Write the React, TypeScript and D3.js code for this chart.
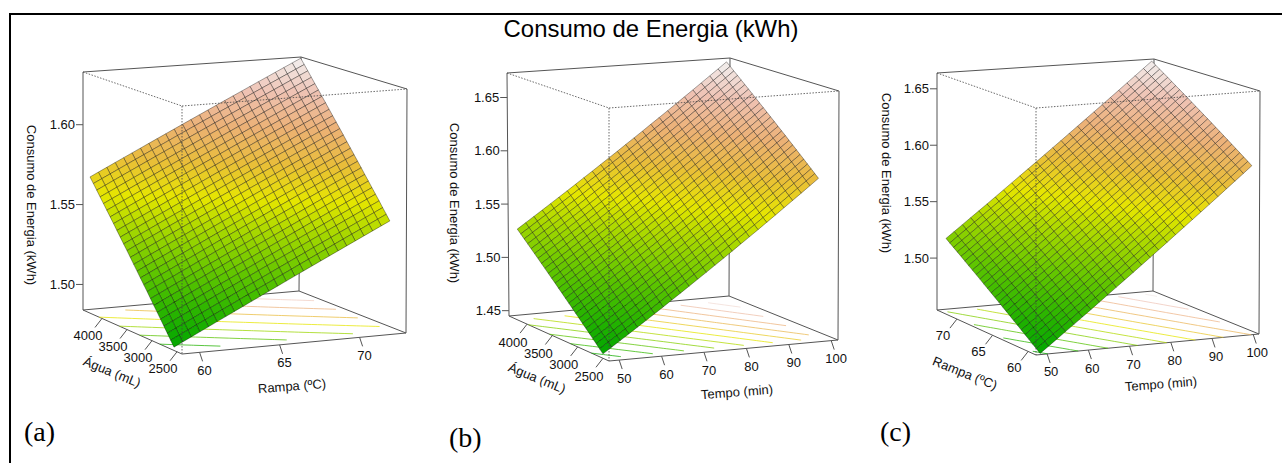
import React from 'react';
import * as d3 from 'd3';

// values, one set per panel
const energyTicksA = [1.5, 1.55, 1.6];
const energyTicksB = [1.45, 1.5, 1.55, 1.6, 1.65];
const energyTicksC = [1.5, 1.55, 1.6, 1.65];
const aguaTicks = [2500, 3000, 3500, 4000];
const rampaTicksA = [60, 65, 70];
const rampaTicksC = [60, 65, 70];
const tempoTicks = [50, 60, 70, 80, 90, 100];

// energy along the lowest edge of each surface, first axis
const edgeRampaA = [1.486, 1.4886, 1.4912, 1.4938, 1.4964, 1.499, 1.5016, 1.5042, 1.5068, 1.5094, 1.512, 1.5146, 1.5172, 1.5198, 1.5224, 1.525, 1.5276, 1.5302, 1.5328, 1.5354, 1.538, 1.5406, 1.5432, 1.5458, 1.5484, 1.551];
const edgeTempoB = [1.449, 1.4543, 1.4596, 1.4649, 1.4703, 1.4757, 1.4811, 1.4866, 1.4922, 1.4977, 1.5033, 1.509, 1.5146, 1.5204, 1.5261, 1.5319, 1.5378, 1.5436, 1.5495, 1.5555, 1.5615, 1.5675, 1.5736, 1.5797, 1.5858, 1.592];
const edgeTempoC = [1.455, 1.4605, 1.466, 1.4716, 1.4771, 1.4827, 1.4883, 1.494, 1.4997, 1.5054, 1.5111, 1.5168, 1.5226, 1.5284, 1.5342, 1.5401, 1.546, 1.5519, 1.5578, 1.5637, 1.5697, 1.5757, 1.5818, 1.5878, 1.5939, 1.6];
// energy gained along the second axis
const gainAguaA = [0, 0.0033, 0.0066, 0.01, 0.0133, 0.0166, 0.0199, 0.0232, 0.0266, 0.0299, 0.0332, 0.0365, 0.0398, 0.0432, 0.0465, 0.0498, 0.0531, 0.0564, 0.0598, 0.0631, 0.0664, 0.0697, 0.073, 0.0764, 0.0797, 0.083];
const gainAguaB = [0, 0.0032, 0.0065, 0.0097, 0.013, 0.0162, 0.0194, 0.0227, 0.0259, 0.0292, 0.0324, 0.0356, 0.0389, 0.0421, 0.0454, 0.0486, 0.0518, 0.0551, 0.0583, 0.0616, 0.0648, 0.068, 0.0713, 0.0745, 0.0778, 0.081];
const gainRampaC = [0, 0.0026, 0.0051, 0.0077, 0.0102, 0.0128, 0.0154, 0.0179, 0.0205, 0.023, 0.0256, 0.0282, 0.0307, 0.0333, 0.0358, 0.0384, 0.041, 0.0435, 0.0461, 0.0486, 0.0512, 0.0538, 0.0563, 0.0589, 0.0614, 0.064];

const contourLevelsA = [1.5, 1.52, 1.54, 1.56, 1.58, 1.6, 1.62];
const contourLevelsBC = [1.46, 1.48, 1.5, 1.52, 1.54, 1.56, 1.58, 1.6, 1.62, 1.64, 1.66];

// same ramp as R's terrain.colors
const terrainStops = ['#00A600', '#2DB600', '#63C600', '#A0D600', '#E6E600', '#E9BD3A', '#ECB176', '#EFC2B3', '#F2F2F2'];

type Pt = [number, number];

const panels = [
  {
    key: 'a', tag: '(a)', tagPos: [24, 441],
    bottom: { front: [182, 354], right: [406, 333], left: [83, 310], back: [299, 291] },
    top: { front: [182, 106], right: [407, 89], left: [83, 72], back: [301, 57] },
    zDomain: [1.484, 1.633], uDomain: [58.9, 72.9], vDomain: [2400, 4380],
    uSurface: [58.9, 72.4], vSurface: [2560, 4240],
    edge: edgeRampaA, gain: gainAguaA, levels: contourLevelsA,
    zTicks: energyTicksA, uTicks: rampaTicksA, vTicks: aguaTicks,
    uTitle: 'Rampa (ºC)', uTitlePos: [292, 386], vTitle: 'Água (mL)', vTitlePos: [112, 372],
    zTitlePos: [32, 205], vLabel: [-14, 17], uLabel: [5, 18],
  },
  {
    key: 'b', tag: '(b)', tagPos: [449, 447],
    bottom: { front: [609, 361], right: [838, 340], left: [509, 316], back: [729, 296] },
    top: { front: [609, 108], right: [839, 91], left: [507, 73], back: [730, 58] },
    zDomain: [1.445, 1.673], uDomain: [47.6, 101.6], vDomain: [2381, 4357],
    uSurface: [47.6, 98.4], vSurface: [2500, 4180],
    edge: edgeTempoB, gain: gainAguaB, levels: contourLevelsBC,
    zTicks: energyTicksB, uTicks: tempoTicks, vTicks: aguaTicks,
    uTitle: 'Tempo (min)', uTitlePos: [737, 392], vTitle: 'Água (mL)', vTitlePos: [537, 378],
    zTitlePos: [455, 203], vLabel: [-14, 18], uLabel: [5, 18],
  },
  {
    key: 'c', tag: '(c)', tagPos: [880, 441],
    bottom: { front: [1036, 355], right: [1259, 334], left: [937, 310], back: [1153, 291] },
    top: { front: [1036, 108], right: [1260, 91], left: [937, 73], back: [1154, 59] },
    zDomain: [1.454, 1.664], uDomain: [47.3, 101.4], vDomain: [58.9, 72.8],
    uSurface: [48.3, 99.5], vSurface: [58.9, 72.1],
    edge: edgeTempoC, gain: gainRampaC, levels: contourLevelsBC,
    zTicks: energyTicksC, uTicks: tempoTicks, vTicks: rampaTicksC,
    uTitle: 'Tempo (min)', uTitlePos: [1161, 384], vTitle: 'Rampa (ºC)', vTitlePos: [965, 373],
    zTitlePos: [887, 173], vLabel: [-14, 16], uLabel: [4, 18],
  },
];

const sans = '"Liberation Sans", Arial, sans-serif';
const serif = '"Liberation Serif", "Times New Roman", serif';
const boxColor = '#555';

function bilinear(q: any, u: number, v: number): Pt {
  const at = (k: number) =>
    q.front[k] * (1 - u) * (1 - v) + q.right[k] * u * (1 - v) + q.left[k] * (1 - u) * v + q.back[k] * u * v;
  return [at(0), at(1)];
}

function Panel({ p }: { p: any }) {
  const uScale = d3.scaleLinear().domain(p.uDomain).range([0, 1]);
  const vScale = d3.scaleLinear().domain(p.vDomain).range([0, 1]);
  const wScale = d3.scaleLinear().domain(p.zDomain).range([0, 1]);

  const project = (u: number, v: number, w: number): Pt => {
    const b = bilinear(p.bottom, u, v);
    const t = bilinear(p.top, u, v);
    return [b[0] + (t[0] - b[0]) * w, b[1] + (t[1] - b[1]) * w];
  };

  const nu = p.edge.length;
  const nv = p.gain.length;
  const uMesh = d3.scaleLinear().domain([0, nu - 1]).range(p.uSurface);
  const vMesh = d3.scaleLinear().domain([0, nv - 1]).range(p.vSurface);
  const zAt = (i: number, j: number) => p.edge[i] + p.gain[j];
  const meshPoint = (i: number, j: number) => project(uScale(uMesh(i)), vScale(vMesh(j)), wScale(zAt(i, j)));

  const zMin = p.edge[0];
  const zMax = p.edge[nu - 1] + p.gain[nv - 1];
  const color = d3.scaleLinear<string>()
    .domain(terrainStops.map((_, k) => zMin + (k / (terrainStops.length - 1)) * (zMax - zMin)))
    .range(terrainStops);

  // facets from the back corner forwards
  const facets: { d: string; fill: string; id: string }[] = [];
  const facetLine = d3.line();
  for (let i = nu - 2; i >= 0; i--) {
    for (let j = nv - 2; j >= 0; j--) {
      const z = (zAt(i, j) + zAt(i + 1, j) + zAt(i, j + 1) + zAt(i + 1, j + 1)) / 4;
      const d = facetLine([meshPoint(i, j), meshPoint(i + 1, j), meshPoint(i + 1, j + 1), meshPoint(i, j + 1)]) + 'Z';
      facets.push({ d, fill: color(z), id: i + '-' + j });
    }
  }

  // contour lines on the floor; the ring parts that only run along the grid border are dropped
  const values: number[] = [];
  for (let j = 0; j < nv; j++) for (let i = 0; i < nu; i++) values.push(zAt(i, j));
  const contours = d3.contours().size([nu, nv]).thresholds(p.levels)(values);
  const inside = (c: number[]) =>
    c[0] >= 0.499 && c[0] <= nu - 0.499 && c[1] >= 0.499 && c[1] <= nv - 0.499;
  const floorLine = d3.line<number[]>()
    .defined(inside)
    .x((c) => project(uScale(uMesh(c[0] - 0.5)), vScale(vMesh(c[1] - 0.5)), 0)[0])
    .y((c) => project(uScale(uMesh(c[0] - 0.5)), vScale(vMesh(c[1] - 0.5)), 0)[1]);

  const edge = (a: Pt, b: Pt) => 'M' + a[0] + ',' + a[1] + 'L' + b[0] + ',' + b[1];
  const { bottom: bt, top: tp } = p;
  const solid = [
    edge(tp.left, tp.back), edge(tp.back, tp.right),
    edge(tp.left, bt.left), edge(tp.back, bt.back), edge(tp.right, bt.right),
    edge(bt.left, bt.front), edge(bt.front, bt.right), edge(bt.left, bt.back), edge(bt.back, bt.right),
  ];
  const dotted = [edge(tp.left, tp.front), edge(tp.front, tp.right), edge(tp.front, bt.front)];

  const zAnchor = (z: number) => project(0, 1, wScale(z));
  const titleRot = (pos: number[], deg: number) => 'rotate(' + deg + ' ' + pos[0] + ' ' + pos[1] + ')';

  return (
    <g>
      {solid.map((d, i) => (
        <path key={i} d={d} fill="none" stroke={boxColor} strokeWidth={1} />
      ))}
      {contours.map((c: any) => (
        <g key={c.value}>
          {c.coordinates.map((poly: any, i: number) =>
            poly.map((ring: any, k: number) => (
              <path key={i + '-' + k} d={floorLine(ring) || ''} fill="none" stroke={color(c.value)} strokeWidth={1} strokeOpacity={0.75} />
            ))
          )}
        </g>
      ))}
      {facets.map((f) => (
        <path key={f.id} d={f.d} fill={f.fill} stroke="#000" strokeOpacity={0.5} strokeWidth={0.7} />
      ))}
      {dotted.map((d, i) => (
        <path key={i} d={d} fill="none" stroke="#444" strokeWidth={0.8} strokeDasharray="1.5 1.5" />
      ))}

      <g fontFamily={sans} fontSize={13} fill="#111">
        {p.zTicks.map((z: number) => {
          const [x, y] = zAnchor(z);
          return (
            <g key={z}>
              <line x1={x - 7} x2={x} y1={y} y2={y} stroke={boxColor} />
              <text x={x - 8} y={y + 4.5} textAnchor="end">{z.toFixed(2)}</text>
            </g>
          );
        })}
        {p.uTicks.map((t: number) => {
          const [x, y] = project(uScale(t), 0, 0);
          return (
            <g key={t}>
              <line x1={x} x2={x + 3} y1={y} y2={y + 9} stroke={boxColor} />
              <text x={x + p.uLabel[0]} y={y + p.uLabel[1] + 4.5} textAnchor="middle">{t}</text>
            </g>
          );
        })}
        {p.vTicks.map((t: number) => {
          const [x, y] = project(0, vScale(t), 0);
          return (
            <g key={t}>
              <line x1={x} x2={x - 7} y1={y} y2={y + 9} stroke={boxColor} />
              <text x={x + p.vLabel[0]} y={y + p.vLabel[1] + 4.5} textAnchor="middle">{t}</text>
            </g>
          );
        })}
        <text x={p.uTitlePos[0]} y={p.uTitlePos[1]} dy="0.35em" textAnchor="middle" transform={titleRot(p.uTitlePos, -4.5)}>{p.uTitle}</text>
        <text x={p.vTitlePos[0]} y={p.vTitlePos[1]} dy="0.35em" textAnchor="middle" transform={titleRot(p.vTitlePos, 22)}>{p.vTitle}</text>
        <text x={p.zTitlePos[0]} y={p.zTitlePos[1]} dy="0.35em" textAnchor="middle" transform={titleRot(p.zTitlePos, 90)}>Consumo de Energia (kWh)</text>
      </g>
      <text x={p.tagPos[0]} y={p.tagPos[1]} fontFamily={serif} fontSize={28} fill="#000">{p.tag}</text>
    </g>
  );
}

export default function App() {
  return (
    <svg width={1282} height={463} style={{ position: 'absolute', left: 0, top: 0, background: '#fff' }}>
      <path d="M10,463V14H1282" fill="none" stroke="#000" strokeWidth={2} />
      <text x={651} y={37} textAnchor="middle" fontFamily={sans} fontSize={23.9} fill="#000">Consumo de Energia (kWh)</text>
      {panels.map((p) => (
        <Panel key={p.key} p={p} />
      ))}
    </svg>
  );
}
